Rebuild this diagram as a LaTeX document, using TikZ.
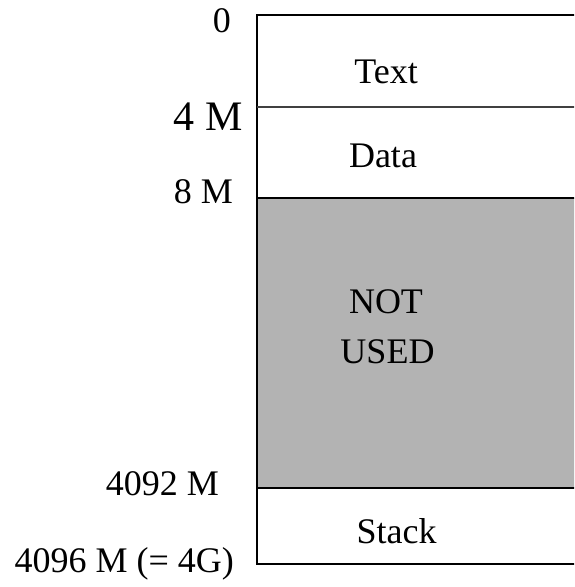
\documentclass[tikz,border=0pt]{standalone}
\usepackage{fontspec}
\setmainfont{Liberation Serif}
\definecolor{unused}{RGB}{179,179,179}
\begin{document}
\begin{tikzpicture}[x=1pt,y=-1pt,
  addr/.style={anchor=base east,inner sep=0pt,font=\fontsize{36}{40}\selectfont},
  seglabel/.style={anchor=base,inner sep=0pt,font=\fontsize{36}{40}\selectfont},
  border/.style={line width=1.5pt,line cap=rect}]
\useasboundingbox (0,0) rectangle (574,587);
\clip (0,0) rectangle (574,587);
% memory segments
\fill[unused] (257,198) rectangle (600,488);
\draw[border] (600,15) -- (257,15) -- (257,564) -- (600,564);
\draw[line width=1.2pt,black!75] (257,107) -- (600,107);
\draw[border] (257,198) -- (600,198);
\draw[border] (257,488) -- (600,488);
% segment names
\node[seglabel] (ltext) at (386,83) {Text};
\node[seglabel] (ldata) at (383,167) {Data};
\node[seglabel] (lnot) at (386,313) {NOT};
\node[seglabel] (lused) at (387.5,363) {USED};
\node[seglabel] (lstack) at (396.5,543) {Stack};
% addresses
\node[addr] (a0) at (231,32) {0};
\node[addr,font=\fontsize{42}{46}\selectfont] (a4) at (243,130) {4 M};
\node[addr] (a8) at (233,203) {8 M};
\node[addr] (a4092) at (219,495) {4092 M};
\node[addr] (a4096) at (234,572) {4096 M (= 4G)};
\end{tikzpicture}
\end{document}
